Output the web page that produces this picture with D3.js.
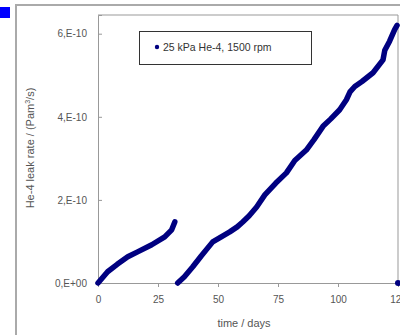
<!DOCTYPE html>
<html>
<head>
<meta charset="utf-8">
<script src="https://cdn.jsdelivr.net/npm/d3@7"></script>
<style>
  body { margin: 0; background: white; }
  svg { display: block; font-family: "Liberation Sans", Arial, sans-serif; }
</style>
</head>
<body>
<svg id="chart" width="400" height="335"></svg>
<script>
// run 1 (before interruption), leak rate in units of 1e-10 Pa m3/s
const run1Days = [0, 4, 8, 12.4, 16.5, 22.4, 27.8, 30.7, 32]
const run1Rates = [0, 0.27, 0.45, 0.63, 0.75, 0.92, 1.11, 1.28, 1.47]

// run 2
const run2Days = [33.2, 36, 39.5, 43, 47.8, 51, 54.9, 58, 60.3, 63, 66.1, 69.5, 74, 78.5, 82, 86.8, 90, 93.75, 97, 100.7, 103.5, 105, 107, 110, 114.6, 118.75, 119.5, 121.5, 123.6, 124.6]
const run2Rates = [0, 0.15, 0.39, 0.65, 0.99, 1.1, 1.23, 1.35, 1.47, 1.62, 1.83, 2.12, 2.4, 2.65, 2.95, 3.2, 3.45, 3.77, 3.95, 4.17, 4.41, 4.6, 4.73, 4.85, 5.06, 5.37, 5.6, 5.82, 6.1, 6.2]

// lone point at end
const endDays = [125]
const endRates = [0]

const xTicks = [0, 25, 50, 75, 100, 125]
const yTicks = [0, 2, 4, 6]
const yTickLabels = ['0,E+00', '2,E-10', '4,E-10', '6,E-10']
const legendLabel = '25 kPa He-4, 1500 rpm'

const svg = d3.select('#chart')
const navy = '#000080'
const grey = '#555'

// outer frame + blue square
svg.append('rect').attr('x', 0).attr('y', 7).attr('width', 10).attr('height', 11).attr('fill', '#0000ff')
svg.append('rect').attr('x', 16).attr('y', 5).attr('width', 400).attr('height', 340)
    .attr('fill', 'white').attr('stroke', '#aaa').attr('stroke-width', 2)

const x = d3.scaleLinear().domain([0, 125]).range([98, 398])
const y = d3.scaleLinear().domain([0, 6.45]).range([283, 15])

// plot box
svg.append('path')
    .attr('d', `M${x(0)},${y(6.45)}H${x(125)}V${y(0)}`)
    .attr('fill', 'none').attr('stroke', '#999').attr('stroke-width', 1)

const xAxis = svg.append('g').attr('transform', `translate(0,${y(0)})`)
    .call(d3.axisBottom(x).tickValues(xTicks).tickSize(4).tickPadding(9).tickFormat(d3.format('d')))
const yAxis = svg.append('g').attr('transform', `translate(${x(0)},0)`)
    .call(d3.axisLeft(y).tickValues(yTicks).tickSize(-4).tickPadding(11).tickFormat((d, i) => yTickLabels[i]))

for (const ax of [xAxis, yAxis]) {
    ax.select('.domain').attr('stroke', '#999')
    ax.selectAll('.tick line').attr('stroke', '#999')
    ax.selectAll('.tick text').attr('fill', grey).attr('font-size', 10)
        .attr('font-family', '"Liberation Sans", Arial, sans-serif')
}

// axis titles
svg.append('text').attr('x', 244).attr('y', 327).attr('text-anchor', 'middle')
    .attr('font-size', 11).attr('fill', grey).text('time / days')
svg.append('text').attr('transform', 'translate(34,148) rotate(-90)').attr('text-anchor', 'middle')
    .attr('font-size', 11).attr('fill', grey)
    .html('He-4 leak rate / (Pam<tspan dy="-4" font-size="7">3</tspan><tspan dy="4">/s)</tspan>')

// data
const line = d3.line().x(d => x(d[0])).y(d => y(d[1]))
const series = [d3.zip(run1Days, run1Rates), d3.zip(run2Days, run2Rates)]
for (const s of series) {
    svg.append('path').attr('d', line(s)).attr('fill', 'none')
        .attr('stroke', navy).attr('stroke-width', 5.5)
        .attr('stroke-linejoin', 'round').attr('stroke-linecap', 'round')
}
svg.append('g').selectAll('circle').data(d3.zip(endDays, endRates)).join('circle')
    .attr('cx', d => x(d[0])).attr('cy', d => y(d[1])).attr('r', 3).attr('fill', navy)

// legend
svg.append('rect').attr('x', 139.5).attr('y', 31.5).attr('width', 172).attr('height', 33)
    .attr('fill', 'white').attr('stroke', '#333').attr('stroke-width', 1)
svg.append('circle').attr('cx', 157).attr('cy', 47).attr('r', 2.2).attr('fill', navy)
svg.append('text').attr('x', 163).attr('y', 51).attr('font-size', 10.5).attr('fill', '#333').text(legendLabel)
</script>
</body>
</html>
